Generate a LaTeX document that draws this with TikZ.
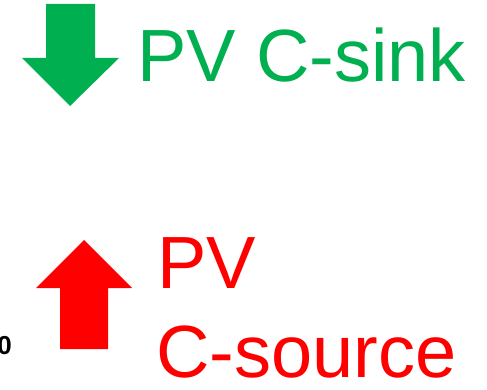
\documentclass[tikz,border=0pt]{standalone}
\usepackage{fontspec}
\setmainfont{Liberation Sans}
\definecolor{sinkgreen}{HTML}{00B050}
\definecolor{srcred}{HTML}{FF0000}
\begin{document}
\begin{tikzpicture}[x=1pt,y=-1pt,
  lbl/.style={inner sep=0pt,outer sep=0pt,anchor=base west,text depth=0pt,font=\fontsize{74}{89}\selectfont}]
\useasboundingbox (0,0) rectangle (487,390);
\fill[white] (0,0) rectangle (487,390);
% green down arrow
\fill[sinkgreen] (46,4) -- (95,4) -- (95,58) -- (119,58) -- (70,106) -- (22,58) -- (46,58) -- cycle;
% red up arrow
\fill[srcred] (60,349) -- (108,349) -- (108,288) -- (132,288) -- (84,240) -- (36,288) -- (60,288) -- cycle;
\node[lbl,text=sinkgreen] (sink) at (137,82) {PV C-sink};
\node[lbl,text=srcred] (pv) at (157,288) {PV};
\node[lbl,text=srcred] (src) at (156,377) {C-source};
\node[inner sep=0pt,anchor=base east,text depth=0pt,font=\fontsize{26}{30}\selectfont\bfseries] (zero) at (12,354) {0};
\end{tikzpicture}
\end{document}
